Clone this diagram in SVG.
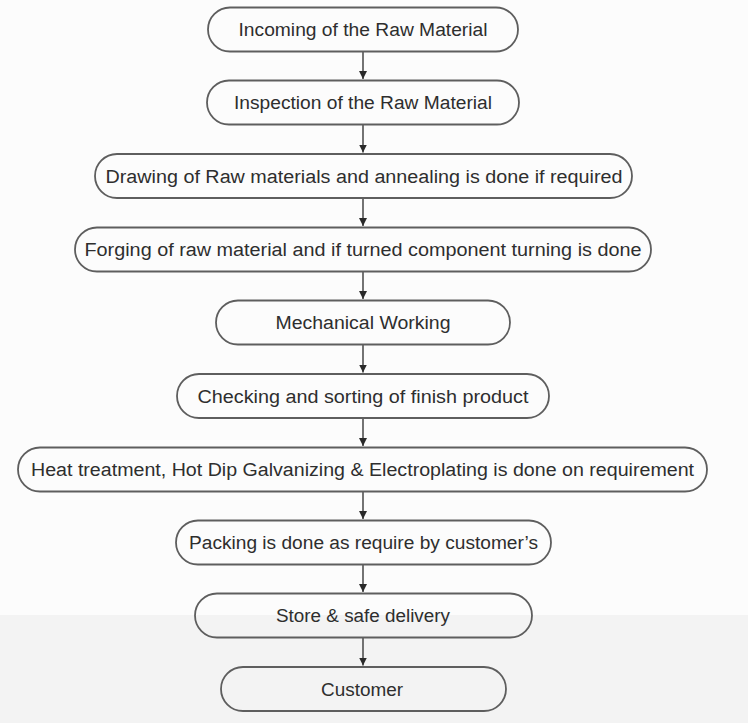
<svg xmlns="http://www.w3.org/2000/svg" width="748" height="723" viewBox="0 0 748 723">
<defs>
<style>
.box{fill:none;stroke:#5e5e5e;stroke-width:1.8}
.lbl{font-family:"Liberation Sans",Arial,sans-serif;font-size:18px;fill:#2e2e2e;text-anchor:middle}
.con{stroke:#3a3a3a;stroke-width:1.4;fill:none}
</style>
<marker id="ah" viewBox="0 0 8 8" refX="8" refY="4" markerWidth="8" markerHeight="8" markerUnits="userSpaceOnUse" orient="auto">
<path d="M0,0 L8,4 L0,8 Z" fill="#2a2a2a"/>
</marker>
</defs>
<rect x="0" y="0" width="748" height="615" fill="#fcfcfc"/>
<rect x="0" y="615" width="748" height="108" fill="#f3f3f3"/>
<g id="connectors">
<line class="con" x1="363" y1="51.5" x2="363" y2="79" marker-end="url(#ah)"/>
<line class="con" x1="363" y1="124.5" x2="363" y2="152.5" marker-end="url(#ah)"/>
<line class="con" x1="363" y1="198" x2="363" y2="226" marker-end="url(#ah)"/>
<line class="con" x1="363" y1="271.5" x2="363" y2="299" marker-end="url(#ah)"/>
<line class="con" x1="363" y1="344.5" x2="363" y2="372.5" marker-end="url(#ah)"/>
<line class="con" x1="363" y1="418" x2="363" y2="446" marker-end="url(#ah)"/>
<line class="con" x1="363" y1="491.5" x2="363" y2="519" marker-end="url(#ah)"/>
<line class="con" x1="363" y1="564.5" x2="363" y2="592" marker-end="url(#ah)"/>
<line class="con" x1="363" y1="637.5" x2="363" y2="665.5" marker-end="url(#ah)"/>
</g>
<g id="n1"><rect class="box" x="208" y="7.5" width="310" height="44" rx="22"/><text class="lbl" x="363" y="36" textLength="249" lengthAdjust="spacingAndGlyphs">Incoming of the Raw Material</text></g>
<g id="n2"><rect class="box" x="207" y="80.5" width="312" height="44" rx="22"/><text class="lbl" x="363" y="109" textLength="258" lengthAdjust="spacingAndGlyphs">Inspection of the Raw Material</text></g>
<g id="n3"><rect class="box" x="95" y="154" width="537" height="44" rx="22"/><text class="lbl" x="364" y="182.5" textLength="517" lengthAdjust="spacingAndGlyphs">Drawing of Raw materials and annealing is done if required</text></g>
<g id="n4"><rect class="box" x="75" y="227.5" width="576" height="44" rx="22"/><text class="lbl" x="363" y="256" textLength="557" lengthAdjust="spacingAndGlyphs">Forging of raw material and if turned component turning is done</text></g>
<g id="n5"><rect class="box" x="216" y="300.5" width="294" height="44" rx="22"/><text class="lbl" x="363" y="329" textLength="175" lengthAdjust="spacingAndGlyphs">Mechanical Working</text></g>
<g id="n6"><rect class="box" x="177" y="374" width="372" height="44" rx="22"/><text class="lbl" x="363" y="402.5" textLength="331" lengthAdjust="spacingAndGlyphs">Checking and sorting of finish product</text></g>
<g id="n7"><rect class="box" x="18" y="447.5" width="689" height="44" rx="22"/><text class="lbl" x="362.5" y="476" textLength="663" lengthAdjust="spacingAndGlyphs">Heat treatment, Hot Dip Galvanizing &amp; Electroplating is done on requirement</text></g>
<g id="n8"><rect class="box" x="176" y="520.5" width="375" height="44" rx="22"/><text class="lbl" x="363.5" y="549" textLength="349" lengthAdjust="spacingAndGlyphs">Packing is done as require by customer’s</text></g>
<g id="n9"><rect class="box" x="195" y="593.5" width="337" height="44" rx="22"/><text class="lbl" x="363" y="622" textLength="174" lengthAdjust="spacingAndGlyphs">Store &amp; safe delivery</text></g>
<g id="n10"><rect class="box" x="221" y="667" width="285" height="44" rx="22"/><text class="lbl" x="362" y="695.5" textLength="82" lengthAdjust="spacingAndGlyphs">Customer</text></g>
</svg>
